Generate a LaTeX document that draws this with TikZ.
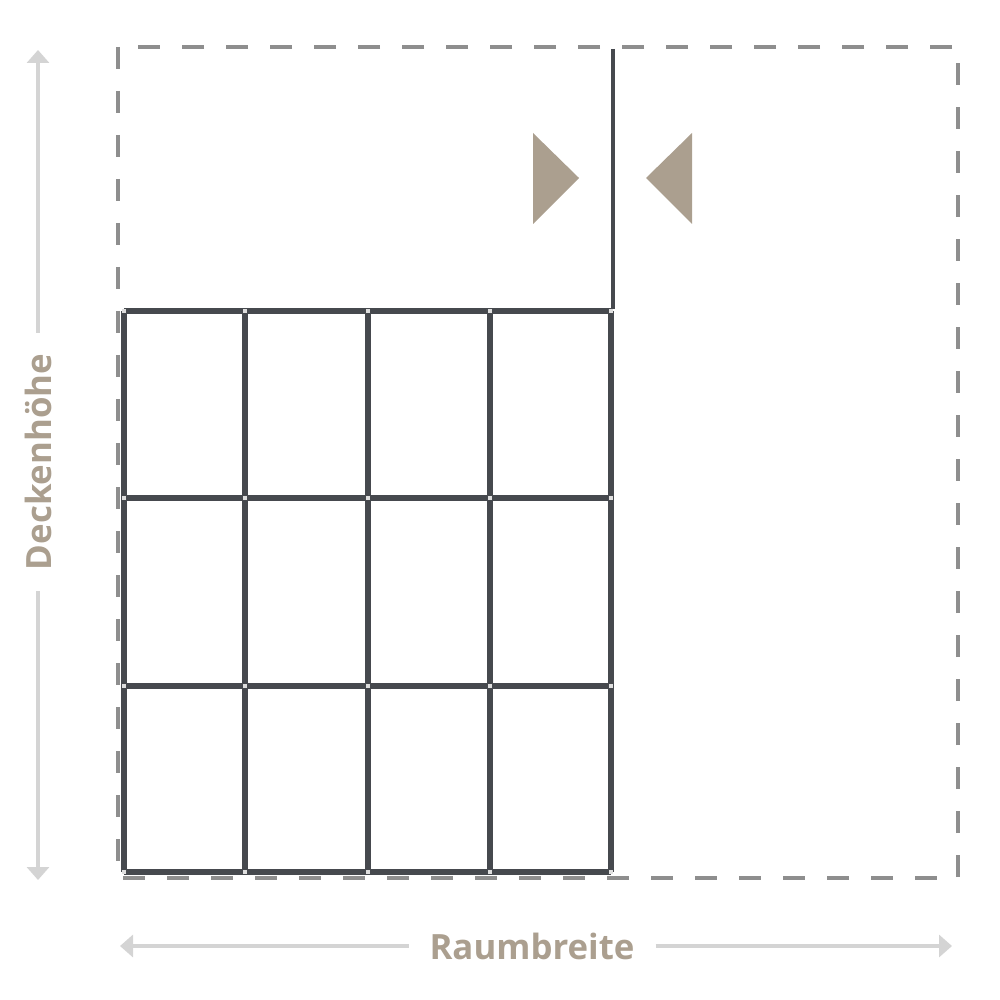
\documentclass[tikz,border=0pt]{standalone}
\usepackage{fontspec}
\setmainfont{Open Sans}
\usetikzlibrary{arrows.meta}
\definecolor{tan}{RGB}{171,159,143}
\definecolor{dashgray}{RGB}{142,142,142}
\definecolor{arrgray}{RGB}{212,212,212}
\definecolor{bar}{RGB}{70,73,78}

\begin{document}
\begin{tikzpicture}[
    wall/.style={dashgray, line width=0.04cm, dash pattern=on 0.22cm off 0.22cm},
    rail/.style={bar, line width=0.06cm},
    dimarrow/.style={arrgray, line width=0.04cm, -{Triangle[width=0.22cm,length=0.13cm]}},
    dimlabel/.style={tan, font=\bfseries\fontsize{9.9}{12}\selectfont, inner sep=0pt, outer sep=0.21cm},
    marker/.style={fill=tan, draw=none}
]
    \useasboundingbox (0,0) rectangle (10,-10);

    % main picture
    \draw[wall] (1.18,-0.47) rectangle (9.58,-8.78);
    \draw[bar, line width=0.04cm] (6.13,-0.49) -- (6.13,-3.09);

    % grid
    \foreach \x in {1.24,2.45,3.68,4.90,6.11}
        \draw[rail] (\x,-3.11) -- (\x,-8.72);
    \foreach \y in {3.11,4.98,6.86,8.72}
        \draw[rail] (1.24,-\y) -- (6.11,-\y);
    \foreach \x in {1.24,2.45,3.68,4.90,6.11}
        \foreach \y in {3.11,4.98,6.86,8.72}
            \fill[gray!25] (\x-0.02,-\y-0.02) rectangle (\x+0.02,-\y+0.02);

    % triangles
    \fill[marker] (5.33,-1.33) -- (5.79,-1.78) -- (5.33,-2.24) -- cycle;
    \fill[marker] (6.92,-1.33) -- (6.46,-1.78) -- (6.92,-2.24) -- cycle;

    % dimensions
    \node[dimlabel, rotate=90] (hoehe) at (0.38,-4.62) {Deckenhöhe};
    \coordinate (htop) at (0.38,-0.50);
    \coordinate (hbot) at (0.38,-8.80);
    \draw[dimarrow] (hoehe.east) -- (htop);
    \draw[dimarrow] (hoehe.west) -- (hbot);

    \node[dimlabel] (breite) at (5.32,-9.46) {Raumbreite};
    \coordinate (bleft) at (1.20,-9.46);
    \coordinate (bright) at (9.52,-9.46);
    \draw[dimarrow] (breite.west) -- (bleft);
    \draw[dimarrow] (breite.east) -- (bright);
\end{tikzpicture}
\end{document}
